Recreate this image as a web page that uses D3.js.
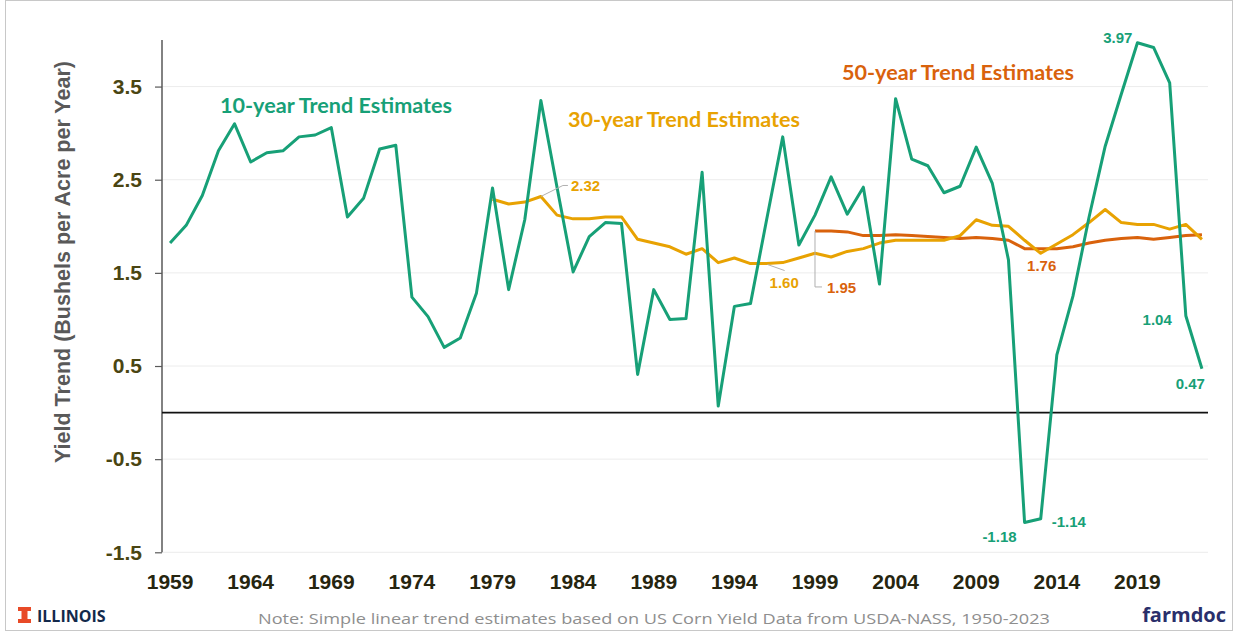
<!DOCTYPE html>
<html>
<head>
<meta charset="utf-8">
<script src="https://cdn.jsdelivr.net/npm/d3@7"></script>
<style>
  html, body { margin: 0; padding: 0; background: #fff; }
  svg { display: block; }
</style>
</head>
<body>
<svg id="chart" width="1239" height="635"></svg>
<script>
// ---------------- DATA ----------------
const years = [1959,1960,1961,1962,1963,1964,1965,1966,1967,1968,1969,1970,1971,1972,1973,1974,1975,1976,1977,1978,
  1979,1980,1981,1982,1983,1984,1985,1986,1987,1988,1989,1990,1991,1992,1993,1994,1995,1996,1997,1998,
  1999,2000,2001,2002,2003,2004,2005,2006,2007,2008,2009,2010,2011,2012,2013,2014,2015,2016,2017,2018,
  2019,2020,2021,2022,2023];

// 10-year trend estimates, 1959-2023
const trend10 = [1.82,2.01,2.33,2.81,3.10,2.69,2.79,2.81,2.96,2.98,3.06,2.10,2.30,2.83,2.87,1.24,1.03,0.70,0.80,1.28,
  2.41,1.32,2.07,3.35,2.42,1.51,1.89,2.04,2.03,0.41,1.32,1.00,1.01,2.58,0.07,1.14,1.17,2.07,2.96,1.80,
  2.12,2.53,2.13,2.42,1.38,3.37,2.72,2.65,2.36,2.43,2.85,2.46,1.64,-1.18,-1.14,0.62,1.25,2.10,2.86,3.42,
  3.97,3.92,3.54,1.04,0.47];

// 30-year trend estimates, 1979-2023
const years30 = years.filter(v => v >= 1979);
const trend30 = [2.29,2.24,2.26,2.32,2.12,2.08,2.08,2.10,2.10,1.86,1.82,1.78,1.70,1.76,1.61,1.66,1.60,1.60,1.61,1.66,
  1.71,1.67,1.73,1.76,1.82,1.85,1.85,1.85,1.85,1.90,2.07,2.01,2.00,1.85,1.71,1.81,1.91,2.04,2.18,2.04,
  2.02,2.02,1.97,2.02,1.86];

// 50-year trend estimates, 1999-2023
const years50 = years.filter(v => v >= 1999);
const trend50 = [1.95,1.95,1.94,1.90,1.90,1.91,1.90,1.89,1.88,1.87,1.88,1.87,1.85,1.76,1.76,1.76,1.78,1.82,1.85,1.87,
  1.88,1.86,1.88,1.90,1.91];

const yTicks = [3.5, 2.5, 1.5, 0.5, -0.5, -1.5];
const xTickYears = [1959,1964,1969,1974,1979,1984,1989,1994,1999,2004,2009,2014,2019];

const seriesNames = ["10-year Trend Estimates", "30-year Trend Estimates", "50-year Trend Estimates"];
const yTitle = "Yield Trend (Bushels per Acre per Year)";
const note = "Note: Simple linear trend estimates based on US Corn Yield Data from USDA-NASS, 1950-2023";

(function () {
// ---------------- STYLE ----------------
const C10 = "#17a077", C30 = "#e8a202", C50 = "#d9620c";
const hyph = f => v => f(v).replace("\u2212", "-");

const svg = d3.select("#chart");
const pL = 162, pR = 1210, pT = 40, pB = 552.3;

const x = d3.scaleBand().domain(years).range([pL, pR]).padding(0);
const xc = yr => x(yr) + x.bandwidth() / 2;
const y = d3.scaleLinear().domain([-1.5, 4.0]).range([pB, pT]);

// outer frame
svg.append("rect").attr("x", 5.5).attr("y", 0.5).attr("width", 1227).attr("height", 630)
  .attr("fill", "none").attr("stroke", "#c8c8c8").attr("stroke-width", 1);

// gridlines
svg.append("g").selectAll("line").data(yTicks).join("line")
  .attr("x1", pL).attr("x2", pR - 2)
  .attr("y1", d => y(d)).attr("y2", d => y(d))
  .attr("stroke", "#ececec").attr("stroke-width", 1);

// y axis
const yAxis = d3.axisLeft(y).tickValues(yTicks).tickSize(7).tickSizeOuter(0).tickPadding(13)
  .tickFormat(hyph(d3.format(".1f")));
const gy = svg.append("g").attr("transform", `translate(${pL},0)`).call(yAxis);
gy.select(".domain").attr("stroke", "#595959").attr("stroke-width", 1.5)
  .attr("d", `M0,${pT}V${pB}`);
gy.selectAll(".tick line").attr("stroke", "#595959").attr("stroke-width", 1.2);
gy.selectAll(".tick text").attr("font-family", "Liberation Sans, Arial, sans-serif")
  .attr("font-weight", "bold").attr("font-size", 21).attr("fill", "#4a4512");

// x axis labels
const xAxis = d3.axisBottom(x).tickValues(xTickYears).tickSize(0).tickPadding(0);
const gx = svg.append("g").attr("transform", `translate(0,${pB})`).call(xAxis);
gx.select(".domain").remove();
gx.selectAll(".tick text").attr("font-family", "Liberation Sans, Arial, sans-serif")
  .attr("font-weight", "bold").attr("font-size", 21).attr("fill", "#26250f")
  .attr("dy", 0).attr("y", 37);

// zero line
svg.append("line").attr("x1", pL).attr("x2", pR - 2)
  .attr("y1", y(0)).attr("y2", y(0)).attr("stroke", "#111").attr("stroke-width", 1.6);

// y title
svg.append("text")
  .attr("transform", `translate(70,262) rotate(-90)`)
  .attr("text-anchor", "middle")
  .attr("font-family", "Liberation Sans, Arial, sans-serif").attr("font-weight", "bold")
  .attr("font-size", 21.5).attr("fill", "#595959")
  .text(yTitle);

// lines
const line = d3.line().defined(d => d[1] != null).x(d => xc(d[0])).y(d => y(d[1]));
const s50 = years50.map((yr, i) => [yr, trend50[i]]);
const s30 = years30.map((yr, i) => [yr, trend30[i]]);
const s10 = years.map((yr, i) => [yr, trend10[i]]);

svg.append("path").datum(s50).attr("d", line).attr("fill", "none")
  .attr("stroke", C50).attr("stroke-width", 3).attr("stroke-linejoin", "round");
svg.append("path").datum(s30).attr("d", line).attr("fill", "none")
  .attr("stroke", C30).attr("stroke-width", 3).attr("stroke-linejoin", "round");
svg.append("path").datum(s10).attr("d", line).attr("fill", "none")
  .attr("stroke", C10).attr("stroke-width", 3).attr("stroke-linejoin", "round");

// series titles
const titleFont = "Lato, 'Open Sans', sans-serif";
const titles = [
  {text: seriesNames[0], color: C10, x: 220, y: 113},
  {text: seriesNames[1], color: C30, x: 568, y: 127},
  {text: seriesNames[2], color: C50, x: 842, y: 80}
];
svg.append("g").selectAll("text").data(titles).join("text")
  .attr("x", d => d.x).attr("y", d => d.y)
  .attr("font-family", titleFont).attr("font-weight", "bold").attr("font-size", 21.6)
  .attr("fill", d => d.color).text(d => d.text);

// data labels
const get = (arr, yrs, yr) => arr[yrs.indexOf(yr)];
const fmt2 = hyph(d3.format(".2f"));
const labels = [
  {yr: 2019, v: get(trend10, years, 2019), color: C10, anchor: "end", dx: -5, dy: 0},
  {yr: 2022, v: get(trend10, years, 2022), color: C10, anchor: "end", dx: -14, dy: 9},
  {yr: 2023, v: get(trend10, years, 2023), color: C10, anchor: "end", dx: 3, dy: 20},
  {yr: 2012, v: get(trend10, years, 2012), color: C10, anchor: "end", dx: -8, dy: 20},
  {yr: 2013, v: get(trend10, years, 2013), color: C10, anchor: "start", dx: 11, dy: 8},
  {yr: 1982, v: get(trend30, years30, 1982), color: C30, anchor: "start", dx: 30, dy: -5,
    leader: [[0, 0], [22, -11], [27, -11]]},
  {yr: 1996, v: get(trend30, years30, 1996), color: C30, anchor: "start", dx: 3, dy: 24,
    leader: [[1, 1], [18, 7]]},
  {yr: 1999, v: get(trend50, years50, 1999), color: C50, anchor: "start", dx: 12, dy: 62,
    leader: [[0, 0], [0, 56], [7, 56]]},
  {yr: 2013, v: get(trend50, years50, 2013), color: C50, anchor: "middle", dx: 1, dy: 22}
];
const lg = svg.append("g");
labels.forEach(l => {
  const px = xc(l.yr), py = y(l.v);
  if (l.leader) {
    lg.append("path").attr("d", d3.line()(l.leader.map(p => [px + p[0], py + p[1]])))
      .attr("fill", "none").attr("stroke", "#b0b0b0").attr("stroke-width", 1);
  }
  lg.append("text").attr("x", px + l.dx).attr("y", py + l.dy)
    .attr("text-anchor", l.anchor)
    .attr("font-family", "Liberation Sans, Arial, sans-serif").attr("font-weight", "bold")
    .attr("font-size", 15).attr("fill", l.color)
    .text(fmt2(l.v));
});

// footer
svg.append("text").attr("x", 654).attr("y", 624).attr("text-anchor", "middle")
  .attr("font-family", "'Open Sans', sans-serif").attr("font-size", 15).attr("fill", "#8e8e8e")
  .attr("textLength", 792).attr("lengthAdjust", "spacingAndGlyphs")
  .text(note);

// Illinois logo: block I
const logo = svg.append("g").attr("transform", "translate(18,607)");
logo.append("path")
  .attr("d", "M0,0H13V4H9.5V12H13V16H0V12H3.5V4H0Z")
  .attr("fill", "#e84a27");
svg.append("text").attr("x", 37).attr("y", 622)
  .attr("font-family", "'Open Sans', sans-serif").attr("font-weight", "bold")
  .attr("font-size", 16).attr("fill", "#13294b").text("ILLINOIS");

svg.append("text").attr("x", 1226).attr("y", 622).attr("text-anchor", "end")
  .attr("font-family", "'Open Sans', sans-serif").attr("font-weight", "bold")
  .attr("font-size", 20).attr("fill", "#2a2f6b").text("farmdoc");
})();
</script>
</body>
</html>
